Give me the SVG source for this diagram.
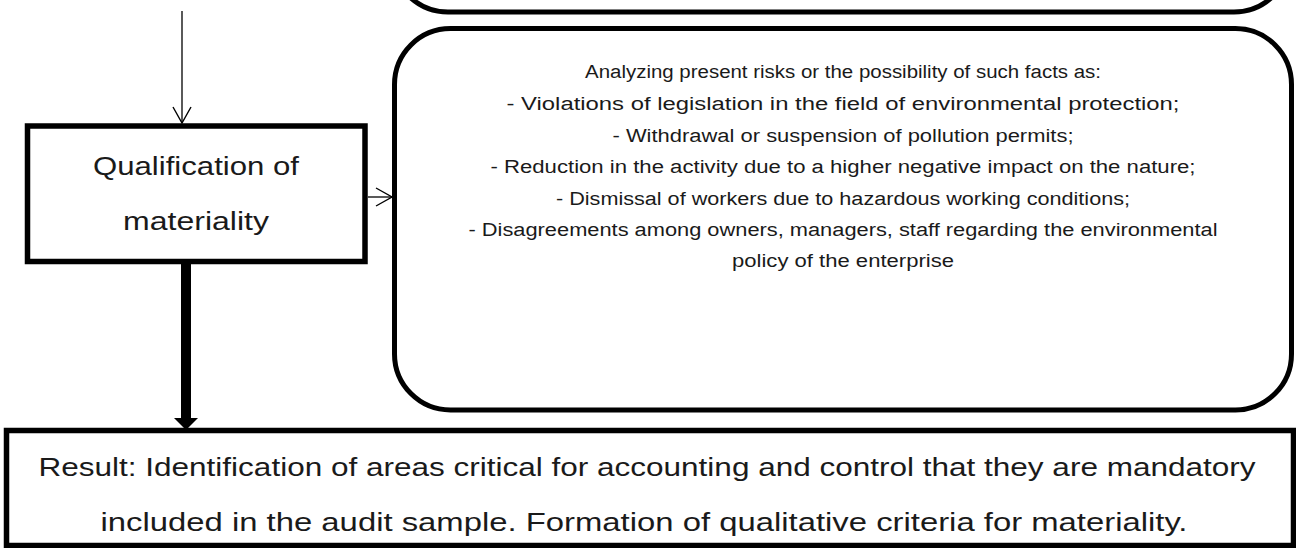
<svg xmlns="http://www.w3.org/2000/svg" width="1296" height="548" viewBox="0 0 1296 548">
<style>
.box{fill:#fff;stroke:#000;stroke-width:5.5}
.rbox{fill:#fff;stroke:#000;stroke-width:5}
.t{font-family:"Liberation Sans",Arial,sans-serif;fill:#1a1a1a;text-anchor:middle}
.big{font-size:26px}
.small{font-size:18px}
.thin{stroke:#000;stroke-width:1.3;fill:none}
</style>
<defs>
<marker id="open" viewBox="0 0 20 20" refX="19" refY="10" markerWidth="20" markerHeight="20" markerUnits="userSpaceOnUse" orient="auto">
<path d="M3,1 L19,10 L3,19" fill="none" stroke="#000" stroke-width="1.4"/>
</marker>
</defs>
<rect width="1296" height="548" fill="#fff"/>
<g id="top-box">
<rect class="rbox" x="392" y="-400" width="898" height="412" rx="56"/>
</g>
<g id="qualification">
<rect class="box" x="27.5" y="126" width="337.5" height="135.5"/>
<text class="t big" x="196" y="175" textLength="206" lengthAdjust="spacingAndGlyphs">Qualification of</text>
<text class="t big" x="196" y="230" textLength="146" lengthAdjust="spacingAndGlyphs">materiality</text>
</g>
<g id="risks">
<rect class="rbox" x="394.5" y="28.5" width="897" height="381.5" rx="56"/>
<text class="t small" x="843" y="78" textLength="516" lengthAdjust="spacingAndGlyphs">Analyzing present risks or the possibility of such facts as:</text>
<text class="t small" x="843" y="110" textLength="673" lengthAdjust="spacingAndGlyphs">- Violations of legislation in the field of environmental protection;</text>
<text class="t small" x="843" y="142" textLength="461" lengthAdjust="spacingAndGlyphs">- Withdrawal or suspension of pollution permits;</text>
<text class="t small" x="843" y="173" textLength="705" lengthAdjust="spacingAndGlyphs">- Reduction in the activity due to a higher negative impact on the nature;</text>
<text class="t small" x="843" y="205" textLength="574" lengthAdjust="spacingAndGlyphs">- Dismissal of workers due to hazardous working conditions;</text>
<text class="t small" x="843" y="236" textLength="749" lengthAdjust="spacingAndGlyphs">- Disagreements among owners, managers, staff regarding the environmental</text>
<text class="t small" x="843" y="267" textLength="222" lengthAdjust="spacingAndGlyphs">policy of the enterprise</text>
</g>
<g id="result">
<rect class="box" x="6.5" y="430.5" width="1287" height="115"/>
<text class="t big" x="647" y="476" textLength="1217" lengthAdjust="spacingAndGlyphs">Result: Identification of areas critical for accounting and control that they are mandatory</text>
<text class="t big" x="644" y="531" textLength="1087" lengthAdjust="spacingAndGlyphs">included in the audit sample. Formation of qualitative criteria for materiality.</text>
</g>
<g id="connectors">
<line class="thin" x1="182" y1="11" x2="182" y2="123" marker-end="url(#open)"/>
<line class="thin" x1="368" y1="197" x2="392" y2="197" marker-end="url(#open)"/>
<line x1="186" y1="264" x2="186" y2="420" stroke="#000" stroke-width="10"/>
<path d="M174,418 L198,418 L186,430 Z" fill="#000"/>
</g>
</svg>
